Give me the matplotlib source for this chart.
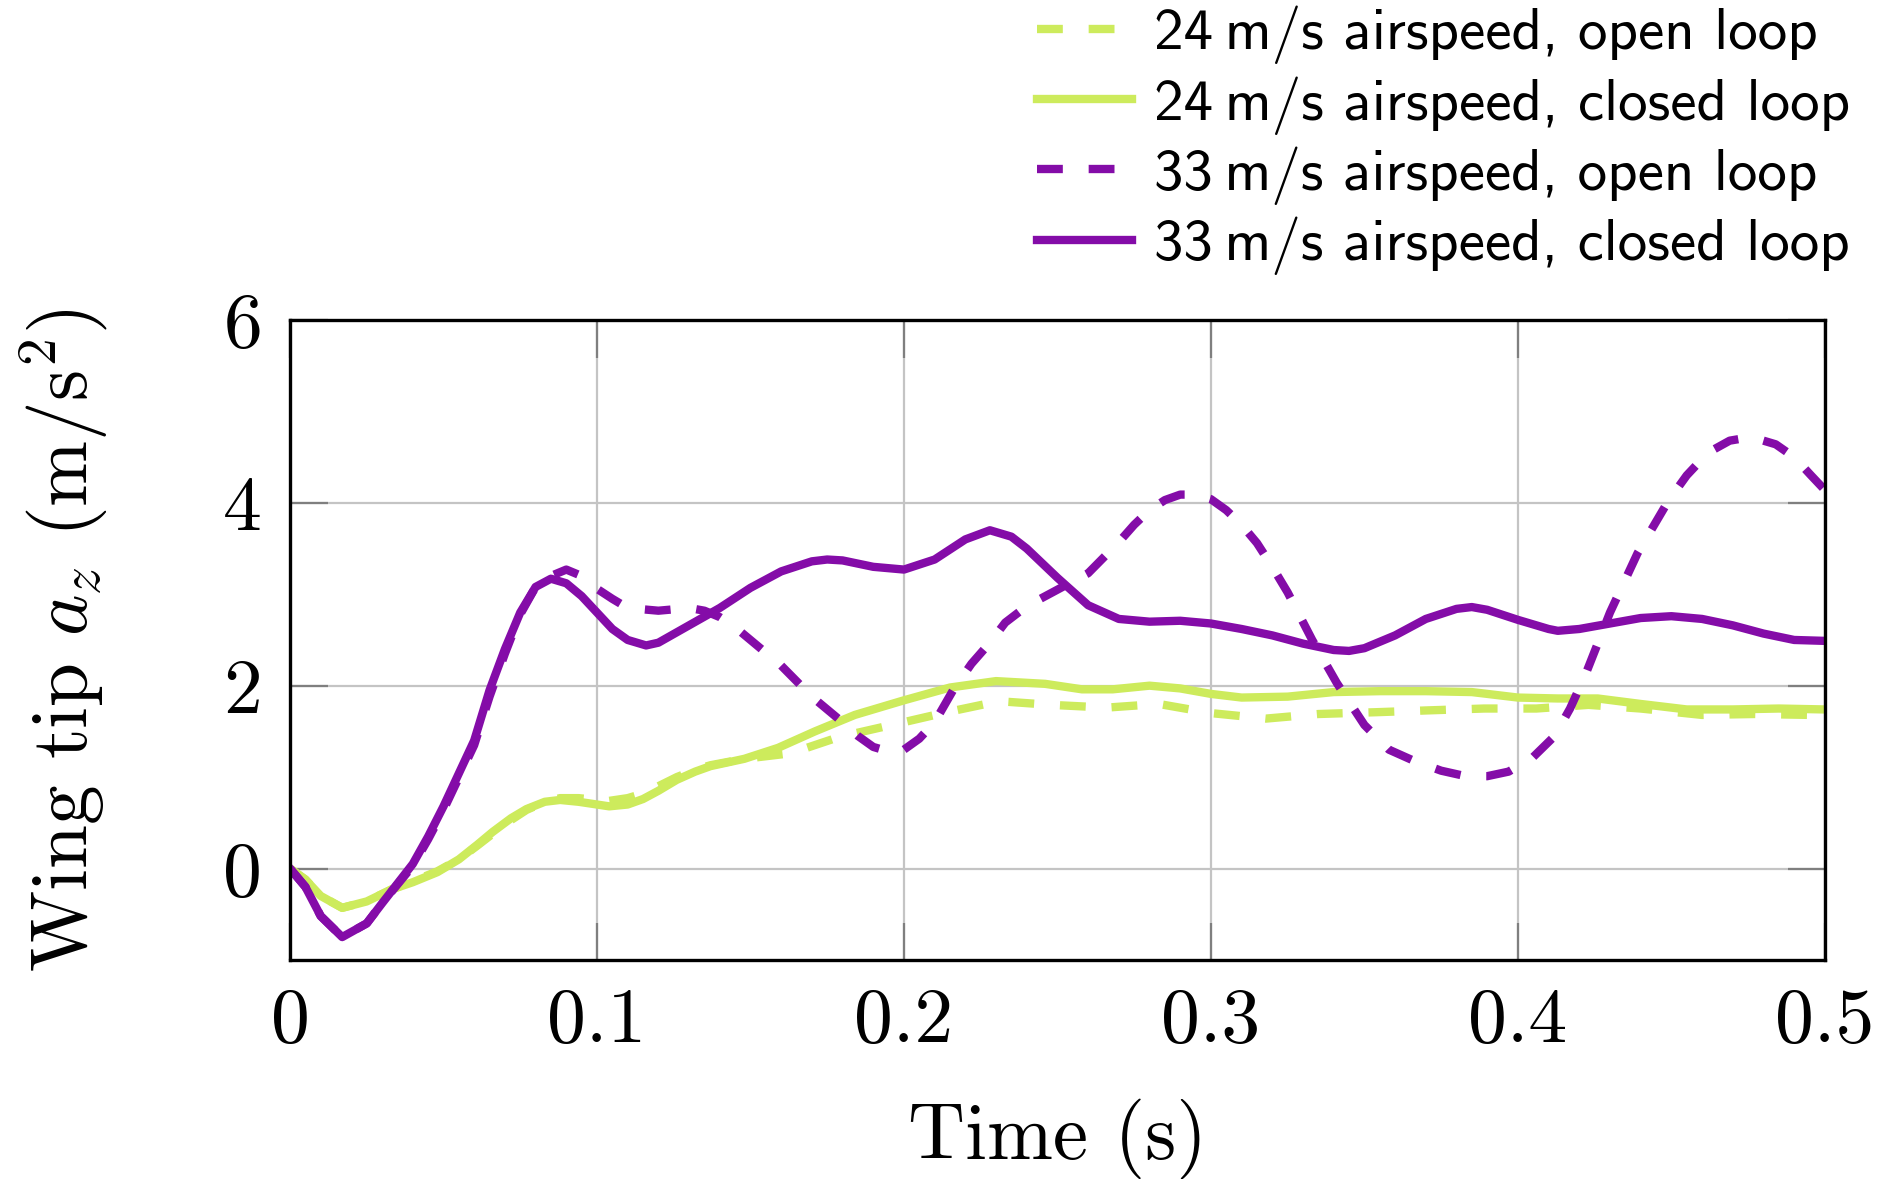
import numpy             as np
import matplotlib
matplotlib.use('Agg')
import matplotlib.pyplot as plt

# Data
t_33_closed = [0, 0.005, 0.01, 0.017, 0.025, 0.03, 0.04, 0.045, 0.05, 0.06,
               0.065, 0.07, 0.075, 0.08, 0.085, 0.09, 0.095, 0.1, 0.105, 0.11,
               0.116, 0.12, 0.13, 0.14, 0.15, 0.16, 0.17, 0.175, 0.18, 0.19,
               0.2, 0.21, 0.22, 0.228, 0.235, 0.24, 0.25, 0.26, 0.27, 0.28,
               0.29, 0.3, 0.31, 0.32, 0.33, 0.34, 0.345, 0.35, 0.36, 0.37,
               0.38, 0.385, 0.39, 0.4, 0.41, 0.413, 0.42, 0.43, 0.44, 0.45,
               0.46, 0.47, 0.48, 0.49, 0.5]
a_33_closed = [0, -0.2, -0.52, -0.75, -0.6, -0.38, 0.05, 0.35, 0.68, 1.4,
               1.95, 2.4, 2.8, 3.08, 3.17, 3.12, 2.98, 2.8, 2.62, 2.5,
               2.44, 2.47, 2.66, 2.85, 3.07, 3.25, 3.36, 3.38, 3.37, 3.3,
               3.27, 3.38, 3.6, 3.7, 3.63, 3.5, 3.18, 2.88, 2.73, 2.7,
               2.71, 2.68, 2.62, 2.55, 2.46, 2.39, 2.38, 2.41, 2.55, 2.73,
               2.84, 2.86, 2.83, 2.72, 2.62, 2.6, 2.62, 2.68, 2.74, 2.76,
               2.73, 2.66, 2.57, 2.5, 2.49]

t_33_open = [0, 0.005, 0.01, 0.017, 0.025, 0.03, 0.04, 0.045, 0.05, 0.06,
             0.065, 0.07, 0.075, 0.08, 0.085, 0.09, 0.095, 0.1, 0.105, 0.11,
             0.12, 0.13, 0.135, 0.14, 0.145, 0.15, 0.16, 0.17, 0.18, 0.185,
             0.19, 0.196, 0.2, 0.205, 0.21, 0.216, 0.222, 0.228, 0.233, 0.24,
             0.25, 0.26, 0.27, 0.275, 0.28, 0.285, 0.29, 0.295, 0.3, 0.305,
             0.31, 0.315, 0.32, 0.325, 0.333, 0.341, 0.35, 0.358, 0.366, 0.375,
             0.383, 0.39, 0.397, 0.405, 0.412, 0.417, 0.422, 0.43, 0.439, 0.449,
             0.455, 0.462, 0.469, 0.476, 0.484, 0.49, 0.4955, 0.5]
a_33_open = [0, -0.2, -0.52, -0.75, -0.6, -0.38, 0.03, 0.32, 0.64, 1.35,
             1.88, 2.35, 2.78, 3.08, 3.2, 3.27, 3.2, 3.06, 2.95, 2.85,
             2.82, 2.85, 2.82, 2.75, 2.64, 2.5, 2.22, 1.88, 1.6, 1.45,
             1.33, 1.27, 1.3, 1.42, 1.6, 1.95, 2.24, 2.47, 2.69, 2.87,
             3.05, 3.23, 3.57, 3.76, 3.92, 4.03, 4.09, 4.09, 4.04, 3.92,
             3.76, 3.56, 3.3, 3.02, 2.5, 2.03, 1.57, 1.3, 1.18, 1.07,
             1.01, 1.01, 1.06, 1.22, 1.45, 1.75, 2.12, 2.8, 3.45, 4.02,
             4.3, 4.55, 4.68, 4.72, 4.64, 4.5, 4.3, 4.14]

t_24_closed = [0, 0.005, 0.01, 0.017, 0.025, 0.033, 0.04, 0.048, 0.055, 0.061,
               0.066, 0.072, 0.077, 0.083, 0.088, 0.094, 0.1, 0.104, 0.11, 0.115,
               0.12, 0.126, 0.132, 0.137, 0.148, 0.159, 0.171, 0.184, 0.2, 0.215,
               0.23, 0.246, 0.258, 0.268, 0.28, 0.29, 0.3, 0.31, 0.325, 0.34,
               0.355, 0.37, 0.385, 0.4, 0.413, 0.426, 0.44, 0.455, 0.47, 0.485,
               0.5]
a_24_closed = [0, -0.12, -0.3, -0.43, -0.36, -0.23, -0.15, -0.04, 0.1, 0.26,
               0.4, 0.55, 0.65, 0.73, 0.75, 0.73, 0.7, 0.68, 0.7, 0.76,
               0.85, 0.97, 1.06, 1.12, 1.2, 1.32, 1.5, 1.68, 1.84, 1.98,
               2.05, 2.02, 1.96, 1.96, 2.0, 1.97, 1.91, 1.87, 1.88, 1.93,
               1.94, 1.94, 1.93, 1.87, 1.86, 1.86, 1.8, 1.74, 1.74, 1.75,
               1.74]

t_24_open = [0, 0.005, 0.01, 0.017, 0.025, 0.033, 0.04, 0.048, 0.055, 0.061,
             0.066, 0.072, 0.077, 0.083, 0.088, 0.094, 0.1, 0.104, 0.11, 0.115,
             0.12, 0.126, 0.132, 0.137, 0.148, 0.163, 0.179, 0.196, 0.214, 0.231,
             0.248, 0.266, 0.283, 0.3, 0.318, 0.335, 0.354, 0.371, 0.389, 0.406,
             0.423, 0.44, 0.46, 0.477, 0.4955, 0.5]
a_24_open = [0, -0.12, -0.3, -0.43, -0.36, -0.23, -0.14, -0.03, 0.1, 0.25,
             0.38, 0.53, 0.64, 0.73, 0.77, 0.77, 0.75, 0.74, 0.77, 0.82,
             0.9, 1.0, 1.08, 1.13, 1.2, 1.26, 1.44, 1.57, 1.71, 1.83,
             1.79, 1.76, 1.8, 1.7, 1.64, 1.69, 1.71, 1.73, 1.75, 1.75,
             1.79, 1.75, 1.68, 1.69, 1.68, 1.68]

labels = ['24\u2009m/s airspeed, open loop',
          '24\u2009m/s airspeed, closed loop',
          '33\u2009m/s airspeed, open loop',
          '33\u2009m/s airspeed, closed loop']
x_ticks = [0, 0.1, 0.2, 0.3, 0.4, 0.5]
y_ticks = [0, 2, 4, 6]

# Styles
green  = '#CDEB5C'
purple = '#840CA8'
lw     = 6.0
dashes = (3.1, 3.1)

plt.rcParams['font.family']                 = 'cmr10'
plt.rcParams['mathtext.fontset']            = 'cm'
plt.rcParams['axes.formatter.use_mathtext'] = True
plt.rcParams['axes.unicode_minus']          = False
plt.rcParams['lines.solid_joinstyle']       = 'round'
plt.rcParams['lines.dash_joinstyle']        = 'round'

fig = plt.figure(figsize=(18.93, 11.79), dpi=100)
ax  = fig.add_axes([0.1532, 0.1858, 0.8108, 0.5428])

ax.plot(t_24_open,   a_24_open,   color=green,  lw=lw, dashes=dashes,
        dash_capstyle='butt', label=labels[0])
ax.plot(t_24_closed, a_24_closed, color=green,  lw=lw, label=labels[1])
ax.plot(t_33_open,   a_33_open,   color=purple, lw=lw, dashes=dashes,
        dash_capstyle='butt', label=labels[2])
ax.plot(t_33_closed, a_33_closed, color=purple, lw=lw, label=labels[3])

#   Axes, grid and ticks
ax.set_xlim(0, 0.5)
ax.set_ylim(-1, 6)
ax.set_xticks(x_ticks)
ax.set_xticklabels(['0', '0.1', '0.2', '0.3', '0.4', '0.5'])
ax.set_yticks(y_ticks)
ax.set_yticklabels(['0', '2', '4', '6'])
ax.grid(True, color='#c4c4c4', lw=1.6)
ax.set_axisbelow(True)
ax.tick_params(direction='in', length=27, width=1.6, color='#7f7f7f',
               top=True, right=True, labelsize=56, pad=20)
for sp in ax.spines.values():
    sp.set_linewidth(2.4)

ax.set_xlabel('Time (s)', fontsize=57, labelpad=30)
ax.set_ylabel('Wing tip $a_z$ (m/s$^2$)', fontsize=57)
ax.yaxis.set_label_coords(-0.118, 0.5)

#   Legend above the axes
fig.legend(loc='upper left', bbox_to_anchor=(0.548, 0.995), frameon=False,
           prop={'family': ['cmss10', 'DejaVu Sans'], 'size': 42.5},
           handlelength=1.6, handletextpad=0.38, labelspacing=0.2,
           borderpad=0, borderaxespad=0)

plt.savefig('out.png', dpi=100)
